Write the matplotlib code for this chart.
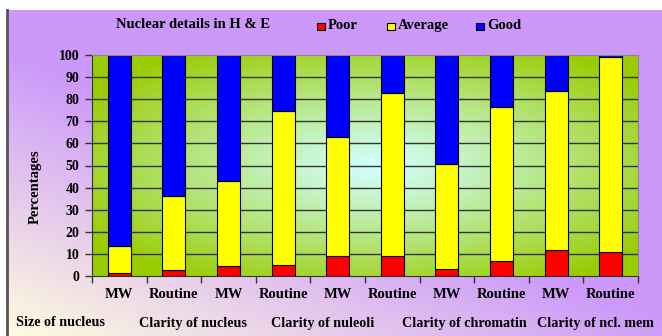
import numpy as np
import matplotlib.pyplot as plt
from matplotlib.patches import Rectangle

# percentages per staining method, stacked poor / average / good
methods = ['MW', 'Routine', 'MW', 'Routine', 'MW', 'Routine', 'MW', 'Routine', 'MW', 'Routine']
groups = ['Size of nucleus', 'Clarity of nucleus', 'Clarity of nuleoli',
          'Clarity of chromatin', 'Clarity of ncl. mem']
poor = [1.2, 2.9, 4.4, 5.0, 9.1, 8.9, 3.0, 6.9, 11.6, 11.0]
average = [12.6, 33.3, 38.6, 69.8, 53.6, 74.0, 47.5, 69.5, 72.2, 88.1]
good = [86.2, 63.8, 57.0, 25.2, 37.3, 17.1, 49.5, 23.6, 16.2, 0.9]

W, H = 662, 336
serif = ['Liberation Serif', 'DejaVu Serif']
fs = 10.5

fig = plt.figure(figsize=(W / 100, H / 100), dpi=100)
fig.patch.set_facecolor('white')

# background panel: cream at lower left fading to lavender
bg = fig.add_axes([0, 0, 1, 1], zorder=-10)
bg.set_xlim(0, W)
bg.set_ylim(0, H)
bg.axis('off')
xx, yy = np.meshgrid(np.linspace(0, 1, 200), np.linspace(0, 1, 100))
s = np.clip((xx * 0.9 + yy * 1.1) / 0.95, 0, 1)[..., None]
cream = np.array([255, 252, 222]) / 255
lav = np.array([204, 153, 250]) / 255
bg.imshow(cream + (lav - cream) * s, extent=(7, W, 0, H - 10), origin='lower',
          aspect='auto', interpolation='bilinear')
bg.plot([7, 7], [0, H - 10], color='#555555', lw=2)

ax = fig.add_axes([92 / W, (H - 276) / H, 546 / W, 221 / H])
ax.set_xlim(0, 10)
ax.set_ylim(0, 100)

# plot area: green with a light cyan glow in the middle
gx, gy = np.meshgrid(np.linspace(0, 1, 300), np.linspace(0, 1, 150))
d = np.sqrt(((gx - 0.52) / 0.62) ** 2 + ((gy - 0.5) / 0.62) ** 2)
t = np.clip(d, 0, 1)[..., None] ** 1.1
green = np.array([153, 204, 0]) / 255
cyan = np.array([210, 255, 255]) / 255
ax.imshow(cyan + (green - cyan) * t, extent=(0, 10, 0, 100), origin='lower',
          aspect='auto', interpolation='bilinear', zorder=0)

for yv in range(10, 100, 10):
    ax.axhline(yv, color='#333333', lw=1, zorder=1)

x = np.arange(len(methods)) + 0.5
bw = 0.42
ax.bar(x, poor, bw, color='#FF0000', edgecolor='black', lw=0.8, zorder=2)
ax.bar(x, average, bw, bottom=poor, color='#FFFF00', edgecolor='black', lw=0.8, zorder=2)
ax.bar(x, good, bw, bottom=np.add(poor, average), color='#0000FF', edgecolor='black',
       lw=0.8, zorder=2)

for side in ['top', 'right']:
    ax.spines[side].set_color('#888888')
    ax.spines[side].set_linewidth(0.8)
for side in ['left', 'bottom']:
    ax.spines[side].set_color('#333333')

ax.set_yticks(range(0, 101, 10))
ax.set_yticklabels([str(v) for v in range(0, 101, 10)], family=serif,
                   fontweight='bold', fontsize=10)
ax.set_xticks(range(0, 11))
ax.set_xticklabels([])
ax.tick_params(axis='both', direction='out', length=5, width=1, color='#333333')
ax.tick_params(axis='y', pad=4)

for xi, m in zip(x, methods):
    ax.text(xi, -5.5, m, ha='center', va='top', family=serif, fontweight='bold',
            fontsize=fs)

group_x = [16, 139, 271, 402, 537]
for gxp, g in zip(group_x, groups):
    fig.text(gxp / W, (H - 323) / H, g, ha='left', va='center', family=serif,
             fontweight='bold', fontsize=10.2)

fig.text(35 / W, (H - 187) / H, 'Percentages', rotation=90, ha='center', va='center',
         family=serif, fontweight='bold', fontsize=fs)

# title and legend row
fig.text(116 / W, (H - 25) / H, 'Nuclear details in H & E', ha='left', va='center',
         family=serif, fontweight='bold', fontsize=fs)
legend_items = [('Poor', '#FF0000', 317), ('Average', '#FFFF00', 387), ('Good', '#0000FF', 476)]
for label, col, px in legend_items:
    bg.add_patch(Rectangle((px, H - 30), 7.5, 7.5, facecolor=col, edgecolor='black', lw=0.8))
    fig.text((px + 11) / W, (H - 25.5) / H, label, ha='left', va='center', family=serif,
             fontweight='bold', fontsize=fs)

fig.savefig('out.png', dpi=100)
